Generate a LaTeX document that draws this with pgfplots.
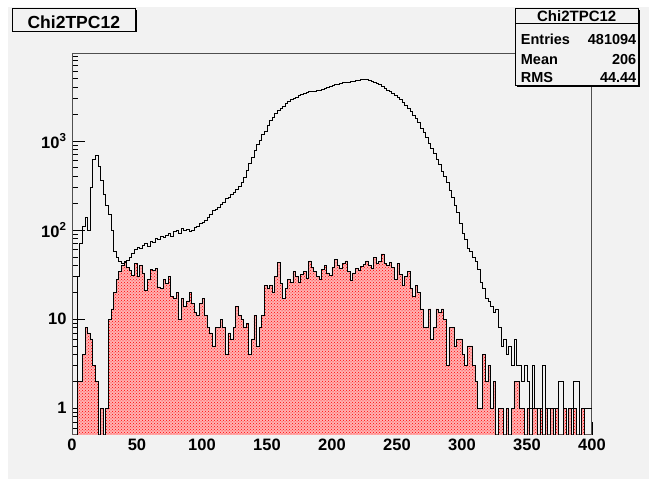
\documentclass[border=0pt]{standalone}
\usepackage{pgfplots}
\pgfplotsset{compat=1.18}
\usepackage{pgfplotstable}
\usepackage{fontspec}
\setmainfont{Liberation Sans}
\usetikzlibrary{patterns}
\definecolor{canvas}{RGB}{242,242,242}
\definecolor{framec}{RGB}{80,80,80}
\pgfplotstableread{
x main red
0 0.1 0.1
2 0.1 0.1
4 30 2
6 70 2
8 110 4
10 140 8
12 100 7
14 300 6
16 620 3
18 690 2
20 520 0.1
22 360 1
24 250 0.1
26 190 1
28 150 10
30 100 13
32 58 20
34 50 28
36 45 34
38 42 40
40 44 43
42 46 38
44 50 35
46 55 31
48 60 42
50 64 30
52 62 40
54 68 33
56 70 21
58 66 28
60 74 36
62 72 35
64 80 37
66 78 23
68 86 22
70 82 28
72 88 25
74 92 30
76 86 18
78 96 17
80 100 20
82 92 10
84 104 17
86 98 14
88 102 16
90 96 20
92 100 15
94 106 12
96 110 11
98 118 15
100 122 17
102 130 11
104 140 8
106 150 7
108 165 5
110 172 8
112 180 8
114 195 10
116 205 8
118 225 4
120 235 7
122 250 6
124 265 8
126 285 14
128 310 11
130 340 10
132 390 8
134 470 9
136 560 4
138 650 6
140 780 11
142 910 5
144 1020 8
146 1180 11
148 1300 24
150 1480 22
152 1700 24
154 1850 20
156 2050 30
158 2200 43
160 2350 25
162 2480 17
164 2620 22
166 2800 28
168 2900 26
170 3000 34
172 3100 30
174 3250 26
176 3380 32
178 3450 34
180 3500 29
182 3580 45
184 3600 38
186 3650 34
188 3700 30
190 3750 28
192 3820 36
194 3900 40
196 4050 33
198 4150 31
200 4200 38
202 4300 47
204 4350 40
206 4420 37
208 4500 42
210 4550 45
212 4600 34
214 4650 27
216 4700 33
218 4780 37
220 4820 35
222 4900 39
224 4950 41
226 4900 45
228 4820 40
230 4700 37
232 4600 49
234 4450 42
236 4300 44
238 4150 54
240 3950 42
242 3750 40
244 3600 43
246 3450 38
248 3250 28
250 3100 42
252 2900 32
254 2700 24
256 2500 30
258 2350 34
260 2150 22
262 1950 18
264 1800 24
266 1600 20
268 1400 13
270 1250 8
272 1100 8
274 950 13
276 820 6
278 720 8
280 620 13
282 540 12
284 460 13
286 400 10
288 340 3
290 280 8
292 230 8
294 190 5
296 157 6
298 120 6
300 92 4
302 78 3
304 62 5
306 58 5
308 50 3
310 44 2
312 36 1
314 26 1
316 22 4
318 17 2
320 16 3
322 14 1
324 12 2
326 13 0.1
328 8 1
330 5 1
332 6 0.1
334 4 1
336 5 0.1
338 3 1
340 6 2
342 3 2
344 3 1
346 2 1
348 3 0.1
350 2 1
352 1 0.1
354 3 1
356 1 1
358 1 0.1
360 0.1 1
362 3 0.1
364 1 1
366 1 0.1
368 0.1 1
370 1 0.1
372 1 1
374 2 0.1
376 2 0.1
378 1 1
380 0.1 0.1
382 1 1
384 1 0.1
386 2 1
388 2 0.1
390 0.1 0.1
392 1 1
394 1 0.1
396 1 0.1
398 1 0.1
400 1 0.1
}\histdata
\begin{document}
\begin{tikzpicture}[x=1pt,y=1pt]
\fill[white] (0,0) rectangle (649,479);
\fill[canvas] (8,0) rectangle (649,472);
\begin{axis}[
  at={(72pt,44pt)}, anchor=south west,
  scale only axis, width=520pt, height=381pt,
  xmin=0, xmax=400, ymode=log, ymin=0.5, ymax=9500,
  log origin=infty,
  axis background/.style={fill=canvas},
  axis line style={framec, line width=1pt},
  tick pos=left, tick align=inside,
  major tick length=13pt, minor tick length=6pt,
  every tick/.style={black, line width=0.8pt},
  xtick={0,50,...,400},
  xticklabels={0,50,100,150,200,250,300,350,400},
  minor x tick num=4,
  ytick={1,10,100,1000},
  yticklabels={1,10,10\textsuperscript{2},10\textsuperscript{3}},
  minor ytick={0.6,0.7,0.8,0.9,2,3,4,5,6,7,8,9,20,30,40,50,60,70,80,90,200,300,400,500,600,700,800,900,2000,3000,4000,5000,6000,7000,8000,9000},
  ticklabel style={font=\bfseries\fontsize{16.5}{16.5}\selectfont},
  yticklabel style={xshift=-2pt},
  clip=true,
]
\addplot[const plot, draw=black, line width=0.8pt, fill=red!30,
  postaction={pattern=crosshatch dots, pattern color=red}]
  table[x=x, y=red] {\histdata} \closedcycle;
\addplot[const plot, draw=black, line width=0.8pt]
  table[x=x, y=main] {\histdata};
\end{axis}
% title box
\fill[black] (14.5,446.5) rectangle (137,469);
\draw[black, line width=0.8pt, fill=canvas] (12.7,448) rectangle (135,470.7);
\node[anchor=base, font=\bfseries\fontsize{17.5}{17.5}\selectfont, inner sep=0pt] at (73.8,450.7) {Chi2TPC12};
% stats box
\fill[black] (517,392) rectangle (640.3,468.7);
\draw[black, line width=0.8pt, fill=canvas] (515,394) rectangle (638.3,470.7);
\draw[black, line width=0.8pt] (515,455.7) -- (638.3,455.7);
\node[anchor=base, font=\bfseries\fontsize{15}{15}\selectfont, inner sep=0pt] at (576.7,457.7) {Chi2TPC12};
\node[anchor=base west, font=\bfseries\fontsize{14.5}{14.5}\selectfont, inner sep=0pt] at (520.7,434.7) {Entries};
\node[anchor=base east, font=\bfseries\fontsize{14.5}{14.5}\selectfont, inner sep=0pt] at (636.5,434.7) {481094};
\node[anchor=base west, font=\bfseries\fontsize{14.5}{14.5}\selectfont, inner sep=0pt] at (520.7,414.7) {Mean};
\node[anchor=base east, font=\bfseries\fontsize{14.5}{14.5}\selectfont, inner sep=0pt] at (636.5,414.7) {206};
\node[anchor=base west, font=\bfseries\fontsize{14.5}{14.5}\selectfont, inner sep=0pt] at (520.7,396.7) {RMS};
\node[anchor=base east, font=\bfseries\fontsize{14.5}{14.5}\selectfont, inner sep=0pt] at (636.5,396.7) {44.44};
\pgfresetboundingbox
\path (0,0) rectangle (649,479);
\end{tikzpicture}
\end{document}
